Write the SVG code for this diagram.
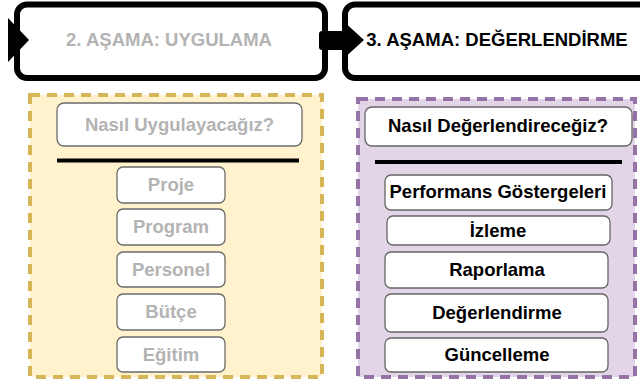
<svg xmlns="http://www.w3.org/2000/svg" width="640" height="382" viewBox="0 0 640 382">
<style>
text{font-family:"Liberation Sans",Arial,sans-serif;font-weight:bold;font-size:18.5px;text-anchor:middle}
.hdr{fill:#fff;stroke:#000;stroke-width:6}
.gray{fill:#b3b3b3}
.blk{fill:#000}
.lbox{fill:#fff;stroke:#6b6b6b;stroke-width:1.3}
.rbox{fill:#fff;stroke:#666;stroke-width:1.3}
.sep{stroke:#000;stroke-width:4}
</style>
<rect width="640" height="382" fill="#fff"/>
<g id="phase2">
<rect class="hdr" x="17" y="4.5" width="308" height="73.5" rx="10"/>
<text class="gray" x="169" y="46">2. AŞAMA: UYGULAMA</text>
</g>
<g id="phase3">
<rect class="hdr" x="345" y="4.5" width="310" height="73.5" rx="10"/>
<text class="blk" x="497" y="46">3. AŞAMA: DEĞERLENDİRME</text>
</g>
<g id="connectors">
<polygon points="8,18 29,40 8,62" fill="#000"/>
<rect x="319" y="31" width="27" height="19" rx="3" fill="#000"/>
<polygon points="342,20 364,40 342,60" fill="#000"/>
</g>
<g id="panel-uygulama">
<rect x="30" y="95" width="292" height="282" fill="#fff2cc" stroke="#d6b656" stroke-width="4" stroke-dasharray="10 7"/>
<rect class="lbox" x="57" y="103" width="245" height="43" rx="7"/>
<text class="gray" x="179.5" y="131">Nasıl Uygulayacağız?</text>
<line class="sep" x1="57" y1="160.5" x2="299" y2="160.5"/>
</g>
<g id="proje"><rect class="lbox" x="117" y="167" width="108" height="36" rx="6"/><text class="gray" x="171" y="191">Proje</text></g>
<g id="program"><rect class="lbox" x="117" y="209" width="108" height="36" rx="6"/><text class="gray" x="171" y="233">Program</text></g>
<g id="personel"><rect class="lbox" x="117" y="252" width="108" height="35" rx="6"/><text class="gray" x="171" y="276">Personel</text></g>
<g id="butce"><rect class="lbox" x="117" y="294" width="108" height="36" rx="6"/><text class="gray" x="171" y="318">Bütçe</text></g>
<g id="egitim"><rect class="lbox" x="117" y="337" width="108" height="35" rx="6"/><text class="gray" x="171" y="361">Eğitim</text></g>
<g id="panel-degerlendirme">
<rect x="358" y="99" width="277" height="278" fill="#e1d5e7" stroke="#9673a6" stroke-width="4" stroke-dasharray="10 7"/>
<rect class="rbox" x="365" y="107" width="267" height="39" rx="7"/>
<text class="blk" x="498" y="132">Nasıl Değerlendireceğiz?</text>
<line class="sep" x1="375" y1="162" x2="622" y2="162"/>
</g>
<g id="performans"><rect class="rbox" x="385" y="175" width="227" height="35" rx="6"/><text class="blk" x="498" y="198">Performans Göstergeleri</text></g>
<g id="izleme"><rect class="rbox" x="387" y="216" width="223" height="29" rx="6"/><text class="blk" x="498" y="237">İzleme</text></g>
<g id="raporlama"><rect class="rbox" x="385" y="252" width="223" height="36" rx="6"/><text class="blk" x="497" y="276">Raporlama</text></g>
<g id="degerlendirme"><rect class="rbox" x="385" y="294" width="223" height="38" rx="6"/><text class="blk" x="497" y="319">Değerlendirme</text></g>
<g id="guncelleme"><rect class="rbox" x="385" y="338" width="223" height="34" rx="6"/><text class="blk" x="497" y="361">Güncelleme</text></g>
</svg>
